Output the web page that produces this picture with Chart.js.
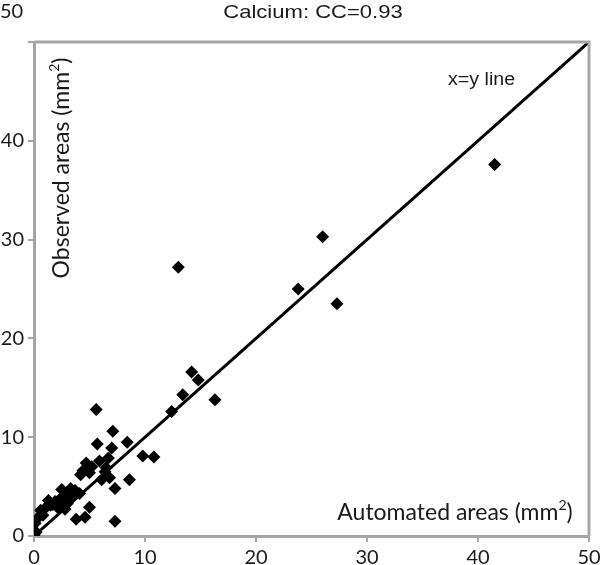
<!DOCTYPE html>
<html>
<head>
<meta charset="utf-8">
<script src="https://cdn.jsdelivr.net/npm/chart.js@4"></script>
<style>
  body { margin: 0; background: #fff; }
  #wrap { width: 600px; height: 565px; }
</style>
</head>
<body>
<div id="wrap"><canvas id="myChart" width="600" height="565"></canvas></div>
<script>
// automated (x) vs observed (y) areas, mm2
const automated = [41.5, 26.0, 23.8, 27.3, 13.0, 14.2, 14.8, 13.4, 12.4, 16.3,
  10.8, 9.8, 5.6, 7.1, 5.7, 8.4, 7.0, 8.6, 7.3, 7.3,
  6.7, 6.5, 5.9, 4.7, 5.2, 4.4, 5.0, 4.2, 6.4, 6.1,
  6.8, 5.0, 3.8, 4.6, 2.5, 3.3, 3.7, 4.1, 2.8, 2.3,
  1.9, 1.3, 1.5, 1.1, 0.6, 2.2, 2.8, 0.8, 0.4, 0.1,
  0.2, 0.0, 3.2, 1.7, 2.6, 3.0];
const observed = [37.6, 30.3, 25.0, 23.5, 27.2, 16.6, 15.8, 14.3, 12.6, 13.8,
  8.0, 8.1, 12.8, 10.6, 9.3, 9.5, 8.9, 5.7, 1.5, 4.8,
  7.9, 6.9, 7.6, 7.4, 7.0, 6.6, 6.4, 6.2, 6.5, 5.7,
  5.9, 2.9, 1.7, 1.9, 4.7, 4.8, 4.6, 4.3, 4.1, 3.7,
  3.5, 3.6, 3.1, 2.9, 2.6, 2.8, 2.7, 2.1, 1.9, 1.3,
  0.4, 0.1, 4.0, 3.2, 3.4, 3.3];
const lineX = [0, 50];
const lineY = [0, 50];
const tickValues = [0, 10, 20, 30, 40, 50];

const points = automated.map((v, i) => ({ x: v, y: observed[i] }));
const linePts = lineX.map((v, i) => ({ x: v, y: lineY[i] }));

const tickFont = { family: 'Lato', size: 20 };
const grey = '#a6a6a6';

// draw text with a raised "2"
function supText(ctx, before, sup, after, x, y, size, family) {
  ctx.font = size + 'px ' + family;
  const w1 = ctx.measureText(before).width;
  ctx.font = Math.round(size * 0.62) + 'px ' + family;
  const w2 = ctx.measureText(sup).width;
  ctx.font = size + 'px ' + family;
  const w3 = ctx.measureText(after).width;
  const total = w1 + w2 + w3;
  let sx = x - total / 2;
  ctx.textAlign = 'left';
  ctx.textBaseline = 'alphabetic';
  ctx.fillText(before, sx, y);
  ctx.font = Math.round(size * 0.62) + 'px ' + family;
  ctx.fillText(sup, sx + w1, y - size * 0.45);
  ctx.font = size + 'px ' + family;
  ctx.fillText(after, sx + w1 + w2, y);
}

// stretched text (the original text is a bit wide)
function wideText(ctx, txt, x, y, sx, align) {
  ctx.save();
  ctx.translate(x, y);
  ctx.scale(sx, 1);
  ctx.textAlign = align;
  ctx.textBaseline = 'alphabetic';
  ctx.fillText(txt, 0, 0);
  ctx.restore();
}

const labelsPlugin = {
  id: 'labels',
  afterDraw(chart) {
    const ctx = chart.ctx;
    const a = chart.chartArea;
    ctx.save();
    // frame top + right
    ctx.strokeStyle = grey;
    ctx.lineWidth = 3;
    ctx.beginPath();
    ctx.moveTo(a.left, a.top);
    ctx.lineTo(a.right, a.top);
    ctx.lineTo(a.right, a.bottom);
    ctx.stroke();

    ctx.fillStyle = '#1a1a1a';
    ctx.font = '19px "Liberation Sans"';
    wideText(ctx, 'Calcium: CC=0.93', 313, 18, 1.16, 'center');

    ctx.font = '20px Lato';
    ctx.textAlign = 'left';
    ctx.textBaseline = 'middle';
    ctx.fillText('50', 0, 12);

    ctx.font = '18px "Liberation Sans"';
    wideText(ctx, 'x=y line', 448, 85, 1.09, 'left');

    supText(ctx, 'Automated areas (mm', '2', ')', 455, 520, 23, 'Lato');

    ctx.translate(69, 168);
    ctx.rotate(-Math.PI / 2);
    supText(ctx, 'Observed areas (mm', '2', ')', 0, 0, 23, 'Lato');
    ctx.restore();
  }
};

function init() {
  const ctx = document.getElementById('myChart');
  new Chart(ctx, {
    type: 'scatter',
    data: {
      datasets: [
        {
          label: 'x=y line',
          type: 'line',
          data: linePts,
          borderColor: '#000',
          borderWidth: 3,
          pointRadius: 0,
          fill: false,
          order: 1,
        },
        {
          label: 'Calcium',
          data: points,
          pointStyle: 'rectRot',
          pointRadius: 6.5,
          pointHoverRadius: 6.5,
          backgroundColor: '#000',
          borderColor: '#000',
          borderWidth: 0,
          order: 2,
        },
      ]
    },
    options: {
      responsive: false,
      animation: false,
      events: [],
      layout: { padding: { top: 42, right: 11, left: 0, bottom: 0 } },
      plugins: { legend: { display: false }, tooltip: { enabled: false } },
      scales: {
        x: {
          type: 'linear',
          min: 0, max: 50,
          afterBuildTicks: (s) => { s.ticks = tickValues.map(v => ({ value: v })); },
          afterFit: (s) => { s.height = 29; s.paddingRight = 11; s.paddingLeft = 0; },
          border: { color: grey, width: 3 },
          grid: { drawOnChartArea: false, color: grey, lineWidth: 2, tickLength: 6 },
          ticks: { color: '#1a1a1a', font: tickFont, padding: 4, maxRotation: 0 },
        },
        y: {
          type: 'linear',
          min: 0, max: 50,
          afterBuildTicks: (s) => { s.ticks = tickValues.map(v => ({ value: v })); },
          afterFit: (s) => { s.width = 34; },
          border: { color: grey, width: 3 },
          grid: { drawOnChartArea: false, color: grey, lineWidth: 2, tickLength: 6 },
          ticks: {
            color: '#1a1a1a', font: tickFont, padding: 4,
            callback: (v) => (v === 50 ? '' : v),
          },
        },
      },
    },
    plugins: [labelsPlugin],
  });
}

document.addEventListener("DOMContentLoaded", init, false);
</script>
</body>
</html>
